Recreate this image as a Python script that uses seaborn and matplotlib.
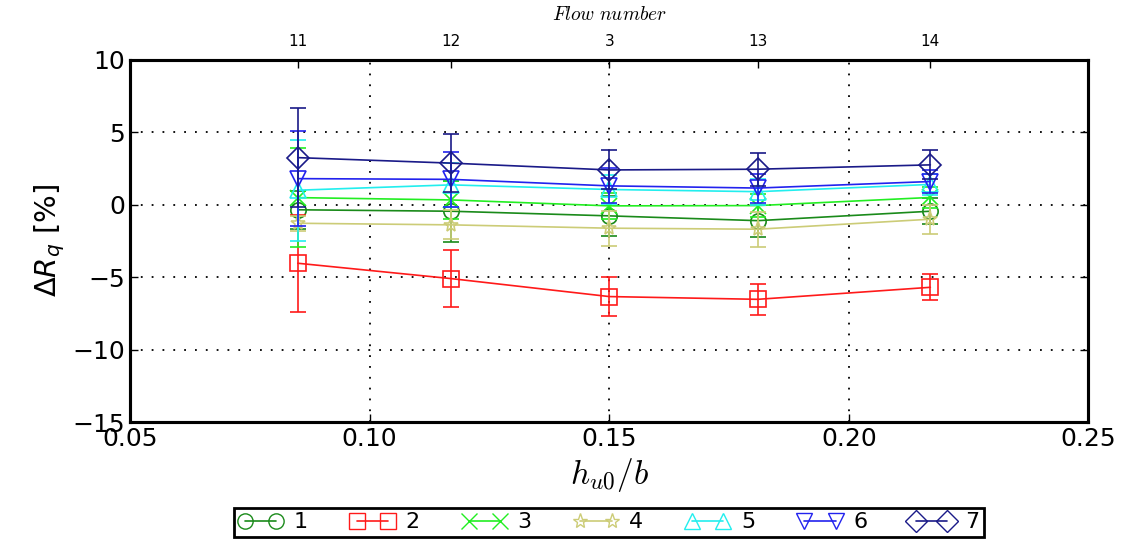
import numpy as np
import pandas as pd
import matplotlib
matplotlib.use("Agg")
import matplotlib.pyplot as plt
import seaborn as sns
from matplotlib.lines import Line2D

# ---- data ----
h_u0_b = [0.085, 0.117, 0.150, 0.181, 0.217]
flow_numbers = ["11", "12", "3", "13", "14"]
series_names = ["1", "2", "3", "4", "5", "6", "7"]

s1 = [-0.35, -0.45, -0.77, -1.10, -0.45]
s2 = [-4.04, -5.10, -6.34, -6.53, -5.70]
s3 = [0.49, 0.33, -0.08, -0.06, 0.50]
s4 = [-1.28, -1.39, -1.62, -1.69, -1.00]
s5 = [1.00, 1.37, 1.05, 0.90, 1.40]
s6 = [1.80, 1.75, 1.30, 1.15, 1.60]
s7 = [3.25, 2.87, 2.40, 2.45, 2.75]

e1 = [1.3, 2.1, 1.4, 1.1, 0.9]
e2 = [3.35, 1.95, 1.35, 1.05, 0.90]
e3 = [3.4, 1.3, 0.9, 0.8, 0.7]
e4 = [0.5, 1.0, 1.2, 1.2, 1.0]
e5 = [3.5, 1.5, 1.0, 0.9, 0.7]
e6 = [3.3, 1.9, 1.2, 1.0, 0.8]
e7 = [3.4, 2.0, 1.35, 1.15, 1.0]

values = [s1, s2, s3, s4, s5, s6, s7]
errors = [e1, e2, e3, e4, e5, e6, e7]
colors = ["#1a8a1a", "#ff1a1a", "#22ee22", "#cccc77", "#22eeee", "#2222ee", "#1a1a88"]
markers = ["o", "s", "x", "*", "^", "v", "D"]
msizes = [11, 11, 11, 11, 11, 11, 11]

sns.set_style("ticks")
plt.rcParams["font.family"] = ["DejaVu Sans"]
plt.rcParams["mathtext.fontset"] = "dejavusans"
plt.rcParams["text.color"] = "black"
plt.rcParams["axes.labelcolor"] = "black"
plt.rcParams["xtick.color"] = "black"
plt.rcParams["ytick.color"] = "black"

fig = plt.figure(figsize=(11.21, 5.39), dpi=100)
ax = fig.add_axes([0.116, 0.217, 0.855, 0.672])

handles = []
for name, v, e, c, m, ms in zip(series_names, values, errors, colors, markers, msizes):
    df = pd.DataFrame({"x": h_u0_b, "y": v})
    sns.lineplot(data=df, x="x", y="y", ax=ax, color=c, marker=m, markersize=ms,
                 markerfacecolor="none", markeredgecolor=c, markeredgewidth=1.2,
                 linewidth=1.2, legend=False, zorder=3)
    ax.errorbar(h_u0_b, v, yerr=e, fmt="none", ecolor=c, elinewidth=1.2,
                capsize=6, capthick=1.2, zorder=3)
    handles.append(Line2D([], [], color=c, marker=m, markersize=ms,
                          markerfacecolor="none", markeredgecolor=c, linewidth=1.2))

ax.set_xlim(0.05, 0.25)
ax.set_ylim(-15, 10)
ax.set_xticks([0.05, 0.10, 0.15, 0.20, 0.25])
ax.set_xticklabels(["0.05", "0.10", "0.15", "0.20", "0.25"])
ax.set_yticks([-15, -10, -5, 0, 5, 10])
ax.set_yticklabels(["\u221215", "\u221210", "\u22125", "0", "5", "10"])
ax.tick_params(axis="both", labelsize=18, direction="in", length=6, width=1,
               top=False, right=True, colors="black")
ax.grid(True, linestyle=(0, (1, 5)), color="k", linewidth=1.3)
for sp in ax.spines.values():
    sp.set_linewidth(2.2)
    sp.set_color("k")

ax.set_xlabel(r"$h_{u0}/b$", fontsize=24, math_fontfamily="cm", labelpad=4)
ax.set_ylabel(r"$\Delta R_q$ [%]", fontsize=21, labelpad=4)

ax2 = ax.twiny()
ax2.set_xlim(ax.get_xlim())
ax2.set_xticks(h_u0_b)
ax2.set_xticklabels(flow_numbers)
ax2.tick_params(axis="x", labelsize=11, direction="in", length=6, width=1, pad=8,
                colors="black")
ax2.set_xlabel(r"$Flow\ number$", fontsize=14, math_fontfamily="cm", labelpad=10)
for sp in ax2.spines.values():
    sp.set_linewidth(2.2)
    sp.set_color("k")

leg = fig.legend(handles, series_names, loc="lower center", ncol=7,
                 bbox_to_anchor=(0.543, 0.0), fontsize=16, numpoints=2,
                 frameon=True, fancybox=False, framealpha=1, handlelength=2.0,
                 columnspacing=1.9, handletextpad=0.5, borderpad=0.2,
                 borderaxespad=0.1)
leg.get_frame().set_edgecolor("k")
leg.get_frame().set_linewidth(2)

fig.savefig("out.png", dpi=100)
